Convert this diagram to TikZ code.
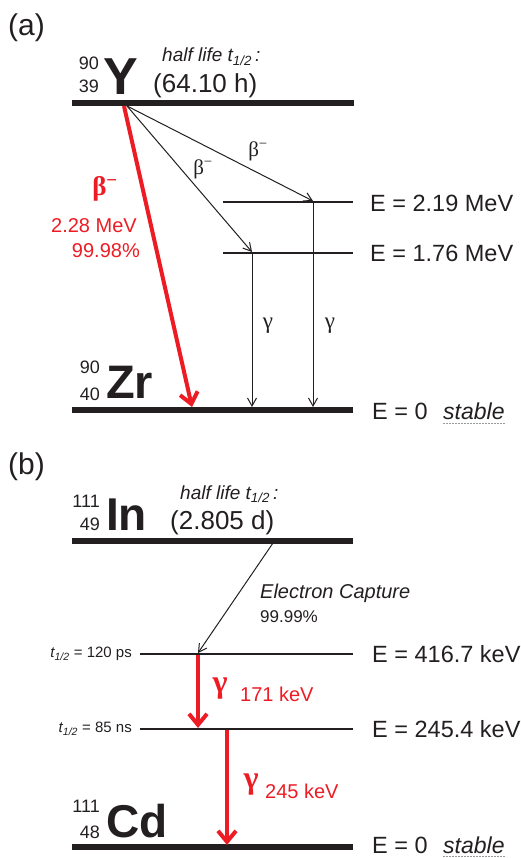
\documentclass[tikz,border=0pt]{standalone}
\usepackage{fontspec}
\setmainfont{Liberation Sans}
\newfontfamily\grk{Liberation Serif}
\usetikzlibrary{arrows.meta}
\definecolor{ink}{HTML}{231F20}
\definecolor{dred}{HTML}{ED1C24}
\newcommand{\fs}[1]{\fontsize{#1}{#1}\selectfont}
\begin{document}
\begin{tikzpicture}[x=1pt,y=-1pt,
  ground/.style={line width=6pt, draw=ink},
  level/.style={line width=1.6pt, draw=ink},
  thinarr/.style={line width=1pt, draw=ink, -{Straight Barb[length=8pt,width=9pt]}},
  redarr/.style={line width=4pt, draw=dred, -{Straight Barb[length=11pt,width=18pt]}},
  txt/.style={inner sep=0pt, text=ink},
  rtxt/.style={inner sep=0pt, text=dred},
  uline/.style={draw=gray!80, line width=0.8pt, dash pattern=on 2pt off 1pt}]
\useasboundingbox (0,0) rectangle (521,858);

% ---------------- (a) ----------------
\node[txt, anchor=base west, font=\fs{30}] (la) at (8,36) {(a)};
\node[txt, anchor=base east, font=\fs{18}] (ymass) at (99,70) {90};
\node[txt, anchor=base east, font=\fs{18}] (yz) at (99,93) {39};
\node[txt, anchor=base west, font=\fs{52}\bfseries] (ysym) at (103,95) {Y};
\node[txt, anchor=base west, font=\fs{19}\itshape] (yhl) at (162,62) {half life t\textsubscript{1/2}\,:};
\node[txt, anchor=base west, font=\fs{26}] (yt) at (153,93) {(64.10 h)};

\coordinate (yL) at (72,103);  \coordinate (yR) at (354,103);
\coordinate (a2L) at (223,202); \coordinate (a2R) at (353,202);
\coordinate (a1L) at (223,253); \coordinate (a1R) at (353,253);
\coordinate (zL) at (72,410);  \coordinate (zR) at (353,410);
\draw[ground] (yL) -- (yR);
\draw[level] (a2L) -- (a2R);
\draw[level] (a1L) -- (a1R);
\draw[ground] (zL) -- (zR);

\coordinate (ys) at (124,106);
\coordinate (ys2) at (127,106);
\coordinate (zhit) at (192,407);
\coordinate (e1) at (252,252);
\coordinate (e2) at (313,201);
\coordinate (g1s) at (252,253);
\coordinate (g2s) at (313,202);
\coordinate (g1e) at (252,407);
\coordinate (g2e) at (313,407);

\draw[redarr] (ys) -- (zhit);
\draw[thinarr] (ys2) -- (e1);
\draw[thinarr] (ys2) -- (e2);
\draw[thinarr] (g1s) -- (g1e);
\draw[thinarr] (g2s) -- (g2e);

\node[txt, font=\fs{21}] (b1) at (203,169) {{\grk β}\textsuperscript{\grk −}};
\node[txt, font=\fs{21}] (b2) at (258,151) {{\grk β}\textsuperscript{\grk −}};
\node[txt, font=\fs{23}] (gg1) at (268,326) {\grk γ};
\node[txt, font=\fs{23}] (gg2) at (330,326) {\grk γ};

\node[rtxt, font=\fs{27}\bfseries] (rb) at (105,189) {{\grk\bfseries β}\textsuperscript{\grk\bfseries −}};
\node[rtxt, anchor=east, font=\fs{20}] (rbE) at (137,226) {2.28 MeV};
\node[rtxt, anchor=east, font=\fs{20}] (rbP) at (140,251) {99.98\%};

\node[txt, anchor=west, font=\fs{23.5}] (ea2) at (370,203) {E = 2.19 MeV};
\node[txt, anchor=west, font=\fs{23.5}] (ea1) at (370,253) {E = 1.76 MeV};

\node[txt, anchor=base east, font=\fs{18}] (zmass) at (100,373) {90};
\node[txt, anchor=base east, font=\fs{18}] (zz) at (100,400) {40};
\node[txt, anchor=base west, font=\fs{47}\bfseries] (zsym) at (106,398) {Zr};
\node[txt, anchor=west, font=\fs{23.5}] (ez) at (372,411) {E = 0};
\node[txt, anchor=west, font=\fs{23}\itshape] (sz) at (443,411) {stable};
\draw[uline] (sz.south west) ++(0,4) -- ([yshift=-4pt]sz.south east);

% ---------------- (b) ----------------
\node[txt, anchor=base west, font=\fs{30}] (lb) at (8,474) {(b)};
\node[txt, anchor=base east, font=\fs{18}] (imass) at (100,507) {111};
\node[txt, anchor=base east, font=\fs{18}] (iz) at (100,530) {49};
\node[txt, anchor=base west, font=\fs{46}\bfseries] (isym) at (106,530) {In};
\node[txt, anchor=base west, font=\fs{19}\itshape] (ihl) at (180,499) {half life t\textsubscript{1/2}\,:};
\node[txt, anchor=base west, font=\fs{26}] (it) at (170,529) {(2.805 d)};

\coordinate (iL) at (72,541);  \coordinate (iR) at (353,541);
\coordinate (b2L) at (140,654); \coordinate (b2R) at (353,654);
\coordinate (b1L) at (140,729); \coordinate (b1R) at (353,729);
\coordinate (cL) at (72,847);  \coordinate (cR) at (353,847);
\draw[ground] (iL) -- (iR);
\draw[level] (b2L) -- (b2R);
\draw[level] (b1L) -- (b1R);
\draw[ground] (cL) -- (cR);

\coordinate (ecs) at (273,543);
\coordinate (ece) at (198,653);
\draw[thinarr] (ecs) -- (ece);
\node[txt, anchor=base west, font=\fs{20}\itshape] (ec) at (260,598) {Electron Capture};
\node[txt, anchor=base west, font=\fs{17}] (ecp) at (260,622) {99.99\%};

\coordinate (r1s) at (198,655); \coordinate (r1e) at (198,728);
\coordinate (r2s) at (227,730); \coordinate (r2e) at (227,845);
\draw[redarr] (r1s) -- (r1e);
\draw[redarr] (r2s) -- (r2e);

\node[rtxt, font=\fs{32}\bfseries] (rg1) at (220,689) {\grk\bfseries γ};
\node[rtxt, anchor=west, font=\fs{20}] (rg1E) at (240,694) {171 keV};
\node[rtxt, font=\fs{32}\bfseries] (rg2) at (251,785) {\grk\bfseries γ};
\node[rtxt, anchor=west, font=\fs{20}] (rg2E) at (265,791) {245 keV};

\node[txt, anchor=east, font=\fs{15}] (h2) at (132,654) {\textit{t\textsubscript{1/2}} = 120 ps};
\node[txt, anchor=east, font=\fs{15}] (h1) at (132,729) {\textit{t\textsubscript{1/2}} = 85 ns};
\node[txt, anchor=west, font=\fs{23.5}] (eb2) at (372,654) {E = 416.7 keV};
\node[txt, anchor=west, font=\fs{23.5}] (eb1) at (372,729) {E = 245.4 keV};

\node[txt, anchor=base east, font=\fs{18}] (cmass) at (100,812) {111};
\node[txt, anchor=base east, font=\fs{18}] (cz) at (100,838) {48};
\node[txt, anchor=base west, font=\fs{46}\bfseries] (csym) at (106,837) {Cd};
\node[txt, anchor=west, font=\fs{23.5}] (ec0) at (372,845) {E = 0};
\node[txt, anchor=west, font=\fs{23}\itshape] (sc) at (443,845) {stable};
\draw[uline] (sc.south west) ++(0,3) -- ([yshift=-3pt]sc.south east);
\end{tikzpicture}
\end{document}
